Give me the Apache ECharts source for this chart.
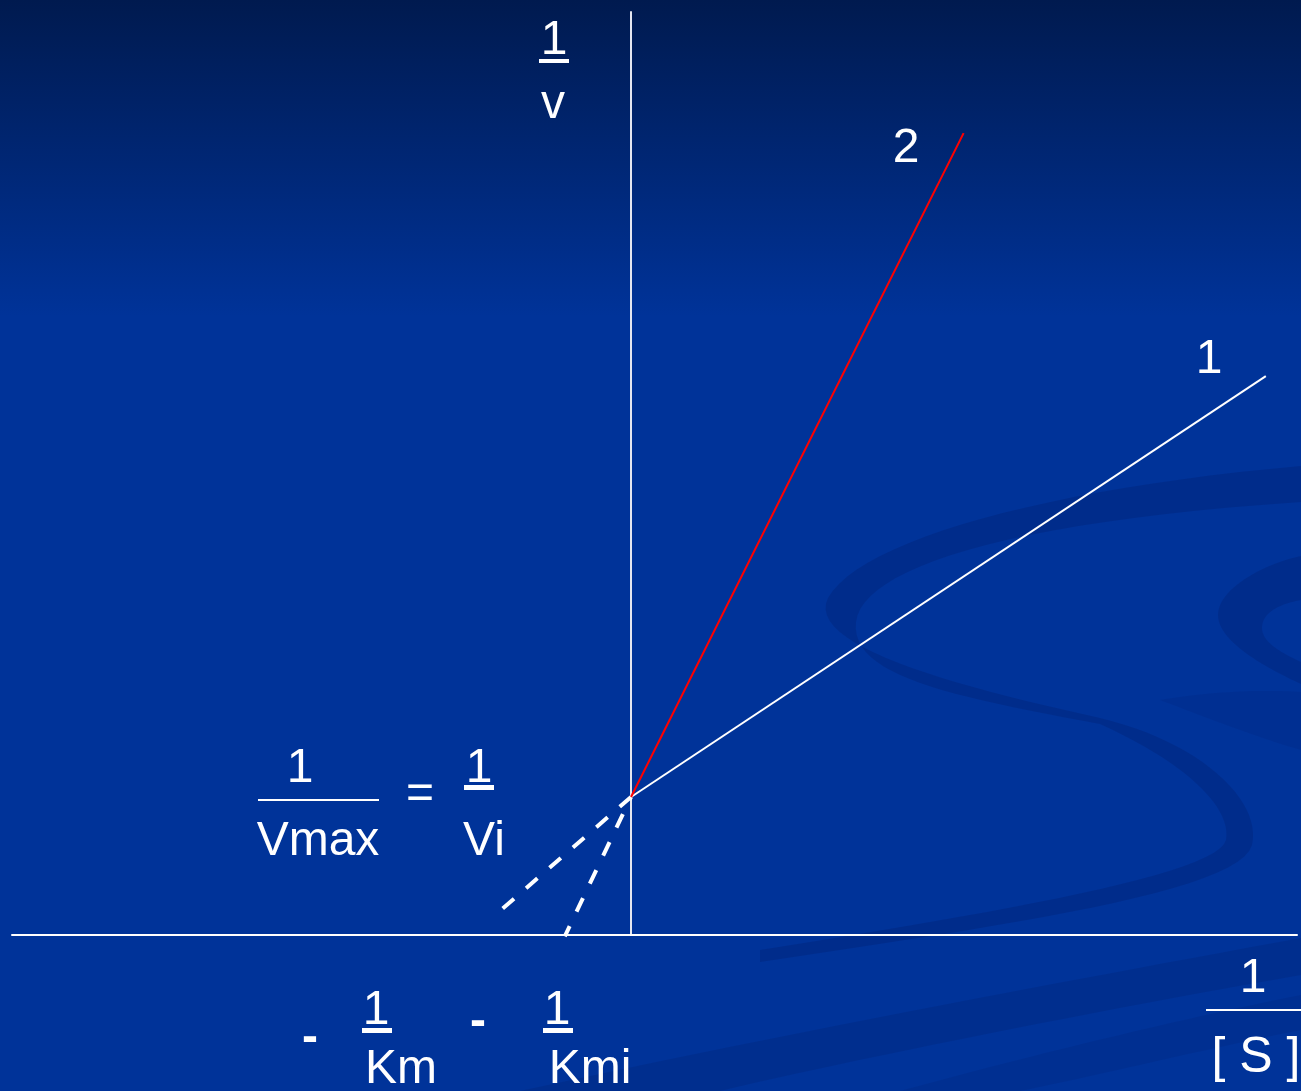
<!DOCTYPE html>
<html>
<head>
<meta charset="utf-8">
<title>Lineweaver-Burk</title>
<script src="https://cdn.jsdelivr.net/npm/echarts@6/dist/echarts.min.js"></script>
<style>
  html, body { margin: 0; padding: 0; background: #003399; }
  #chart { width: 1301px; height: 1091px; }
</style>
</head>
<body>
<div id="chart"></div>
<script>
// axis extents, in units of 1/Vmax (origin at 1/[S] = 0, 1/v = 0)
const xRange = [-4.486, 4.826];
const yRange = [0, 6.688];

// line 1 (no inhibitor) and line 2 (competitive inhibitor), both through 1/Vmax
const line1X = [0, 4.60];
const line1Y = [1, 4.05];
const line2X = [0, 2.41];
const line2Y = [1, 5.81];

// dashed extrapolations towards -1/Km and -1/Kmi
const ext1X = [0, -0.99];
const ext1Y = [1, 0.14];
const ext2X = [0, -0.48];
const ext2Y = [1, -0.01];

const FONT = '"Liberation Sans", Arial, sans-serif';
const WHITE = '#ffffff';

const pairs = (xs, ys) => xs.map((x, i) => [x, ys[i]]);

const txt = (text, x, y, size, weight) => ({
  type: 'text',
  silent: true,
  z: 50,
  style: {
    text: text,
    x: x,
    y: y + 3,
    fill: WHITE,
    font: (weight || 'normal') + ' ' + (size || 48) + 'px ' + FONT,
    textAlign: 'center',
    textVerticalAlign: 'middle'
  }
});

const bar = (x, y, w, h) => ({
  type: 'rect',
  silent: true,
  z: 50,
  shape: { x: x, y: y, width: w, height: h },
  style: { fill: WHITE }
});

// background swoosh: start point, then segments (a point = straight line, three points = cubic curve)
const swoosh = (start, segs, op) => {
  const pts = [start];
  let cur = start;
  segs.forEach((s) => {
    if (typeof s[0] === 'number') {
      pts.push(s);
      cur = s;
      return;
    }
    const [c1, c2, e] = s;
    for (let i = 1; i <= 24; i++) {
      const t = i / 24, u = 1 - t;
      pts.push([
        u * u * u * cur[0] + 3 * u * u * t * c1[0] + 3 * u * t * t * c2[0] + t * t * t * e[0],
        u * u * u * cur[1] + 3 * u * u * t * c1[1] + 3 * u * t * t * c2[1] + t * t * t * e[1]
      ]);
    }
    cur = e;
  });
  return {
    type: 'polygon',
    silent: true,
    z: -90,
    shape: { points: pts },
    style: { fill: 'rgba(0, 22, 90, ' + op + ')' }
  };
};

const chart = echarts.init(document.getElementById('chart'), null, { renderer: 'canvas' });

const option = {
  animation: false,
  graphic: [
    {
      type: 'rect',
      silent: true,
      z: -100,
      shape: { x: 0, y: 0, width: 1301, height: 1091 },
      style: {
        fill: new echarts.graphic.LinearGradient(0, 0, 0, 1, [
          { offset: 0, color: '#001a4f' },
          { offset: 0.29, color: '#003399' },
          { offset: 1, color: '#003399' }
        ])
      }
    },
    // background decoration
    swoosh([1301, 466], [
      [[1050, 488], [860, 540], [828, 598]],
      [[805, 645], [950, 685], [1100, 718]],
      [[1200, 742], [1262, 800], [1252, 845]],
      [[1240, 892], [1000, 926], [760, 962]],
      [760, 950],
      [[1000, 912], [1218, 874], [1226, 840]],
      [[1232, 805], [1180, 760], [1100, 724]],
      [[950, 696], [850, 676], [856, 622]],
      [[862, 570], [1000, 522], [1301, 502]]
    ], 0.22),
    swoosh([1301, 556], [
      [[1260, 565], [1218, 590], [1218, 615]],
      [[1218, 640], [1260, 665], [1301, 684]],
      [1301, 662],
      [[1275, 650], [1262, 640], [1262, 628]],
      [[1262, 612], [1280, 604], [1301, 600]]
    ], 0.22),
    swoosh([1160, 700], [
      [[1220, 690], [1270, 690], [1301, 692]],
      [1301, 750],
      [[1250, 735], [1200, 715], [1160, 700]]
    ], 0.1),
    swoosh([520, 1091], [
      [[800, 1030], [1100, 975], [1301, 938]],
      [1301, 975],
      [[1100, 1010], [850, 1060], [720, 1091]]
    ], 0.16),
    swoosh([900, 1091], [
      [[1050, 1050], [1200, 1015], [1301, 995]],
      [1301, 1030],
      [[1200, 1050], [1100, 1075], [1020, 1091]]
    ], 0.12),

    // axis titles
    txt('1', 554, 38), bar(539, 59, 30, 4),
    txt('v', 553, 102),
    txt('1', 1253, 976), bar(1206, 1009, 95, 2),
    txt('[ S ]', 1256, 1055, 50),

    // line labels
    txt('2', 906, 146),
    txt('1', 1209, 357),

    // 1/Vmax = 1/Vi
    txt('1', 300, 766), bar(258, 799, 121, 2),
    txt('Vmax', 318, 839),
    txt('=', 420, 792),
    txt('1', 479, 766), bar(464, 785, 30, 5),
    txt('Vi', 484, 839),

    // -1/Km  -1/Kmi
    txt('-', 310, 1036, 48, 'bold'),
    txt('1', 376, 1008), bar(362, 1028, 30, 5),
    txt('Km', 401, 1067),
    txt('-', 478, 1020, 48, 'bold'),
    txt('1', 557, 1008), bar(543, 1028, 30, 5),
    txt('Kmi', 590, 1067)
  ],
  grid: { left: 12, right: 4, top: 12, bottom: 156, containLabel: false },
  xAxis: {
    type: 'value',
    min: xRange[0],
    max: xRange[1],
    axisLine: { show: true, onZero: true, lineStyle: { color: WHITE, width: 2 } },
    axisTick: { show: false },
    axisLabel: { show: false },
    splitLine: { show: false }
  },
  yAxis: {
    type: 'value',
    min: yRange[0],
    max: yRange[1],
    axisLine: { show: true, onZero: true, lineStyle: { color: '#e4e6f0', width: 2 } },
    axisTick: { show: false },
    axisLabel: { show: false },
    splitLine: { show: false }
  },
  series: [
    {
      name: 'ext1',
      type: 'line',
      data: pairs(ext1X, ext1Y),
      showSymbol: false,
      clip: false,
      lineStyle: { color: WHITE, width: 4, type: [15, 16], cap: 'butt' },
      z: 3
    },
    {
      name: 'ext2',
      type: 'line',
      data: pairs(ext2X, ext2Y),
      showSymbol: false,
      clip: false,
      lineStyle: { color: WHITE, width: 4, type: [15, 16], dashOffset: 12, cap: 'butt' },
      z: 3
    },
    {
      name: '1',
      type: 'line',
      data: pairs(line1X, line1Y),
      showSymbol: false,
      lineStyle: { color: WHITE, width: 2 },
      z: 4
    },
    {
      name: '2',
      type: 'line',
      data: pairs(line2X, line2Y),
      showSymbol: false,
      lineStyle: { color: '#ff0000', width: 2 },
      z: 5
    }
  ]
};

chart.setOption(option);
window.addEventListener('resize', () => chart.resize());
</script>
</body>
</html>
